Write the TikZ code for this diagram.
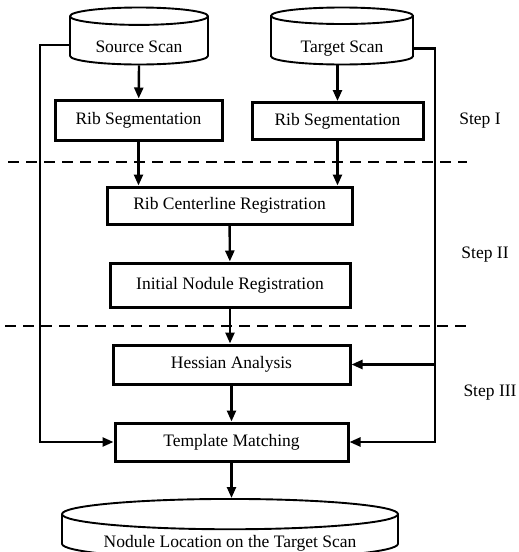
\documentclass[tikz,border=0pt]{standalone}
\usepackage{fontspec}
\setmainfont{Liberation Serif}
\usetikzlibrary{arrows.meta, shapes.geometric, positioning}
\newcommand{\lowtxt}[2]{\raisebox{-#1}[0pt][0pt]{#2}}
\tikzset{
  stage/.style   ={draw, rectangle, line width=3pt, inner sep=0pt, font=\fontsize{17.5}{20}\selectfont},
  scan/.style    ={draw, cylinder, shape border rotate=90, aspect=0.2, inner sep=0pt, line width=1.9pt, font=\fontsize{17.5}{20}\selectfont},
  flow/.style    ={-{Triangle[length=11pt, width=9pt]}, line width=2.4pt},
  sep/.style     ={dashed, dash pattern=on 11pt off 7pt, line width=2pt},
  steplbl/.style ={font=\fontsize{17.5}{20}\selectfont},
}
\begin{document}
\begin{tikzpicture}[x=1pt, y=-1pt]
  \useasboundingbox (0,0) rectangle (519,552);

  % STEP I: scans and rib segmentation
  \node[scan, anchor=shape center, minimum width=138pt, minimum height=57pt] (src) at (139,36) {\lowtxt{12pt}{Source Scan}};
  \node[scan, anchor=shape center, minimum width=142pt, minimum height=57pt] (tgt) at (342,36) {\lowtxt{12pt}{Target Scan}};
  \node[stage, minimum width=167pt, minimum height=40pt] (segL) at (138.5,120) {Rib Segmentation};
  \node[stage, minimum width=171pt, minimum height=37pt] (segR) at (337.5,121) {Rib Segmentation};
  \draw[flow] (src.south) -- (segL);
  \draw[flow] (tgt.south -| segR.north) -- (segR);
  \node[steplbl] (s1) at (480,121) {Step I};

  % separators
  \coordinate (d1a) at (8,162);   \coordinate (d1b) at (467,162);
  \coordinate (d2a) at (5,326);   \coordinate (d2b) at (466,326);
  \draw[sep] (d1a) -- (d1b);
  \draw[sep] (d2a) -- (d2b);

  % STEP II: registration
  \node[stage, minimum width=245pt, minimum height=37pt] (cenreg) at (229.5,205.5) {Rib Centerline Registration};
  \node[stage, minimum width=240pt, minimum height=44pt] (nodreg) at (230,285) {Initial Nodule Registration};
  \draw[flow] (segL.south) -- (segL.south |- cenreg.north);
  \draw[flow] (segR.south) -- (segR.south |- cenreg.north);
  \draw[flow] (cenreg) -- (nodreg);
  \node[steplbl] (s2) at (485,255) {Step II};

  % STEP III: refinement
  \node[stage, minimum width=237pt, minimum height=39pt] (hess) at (231.5,364.5) {Hessian Analysis};
  \node[stage, minimum width=233pt, minimum height=38pt] (tmatch) at (231.5,442) {Template Matching};
  \node[scan, aspect=0.12, minimum width=336pt, minimum height=60pt] (result) at (230,537) {\lowtxt{10pt}{Nodule Location on the Target Scan}};
  \draw[flow] (nodreg.south) -- (nodreg.south |- hess.north);
  \draw[flow] (hess.south) -- (hess.south |- tmatch.north);
  \draw[flow] (tmatch.south) -- (tmatch.south |- result.north);
  \node[steplbl] (s3) at (490,393) {Step III};

  % side feeds from the scans
  \coordinate (lrail) at (40,0);
  \coordinate (rrail) at (435,0);
  \draw[flow] ([yshift=-4pt]src.west) -- ([yshift=-4pt]src.west -| lrail) -- (lrail |- tmatch.west) -- (tmatch.west);
  \draw[flow] ([yshift=-8pt]tgt.east) -- ([yshift=-8pt]tgt.east -| rrail) -- (rrail |- tmatch.east) -- (tmatch.east);
  \draw[flow] (rrail |- hess.east) -- (hess.east);
\end{tikzpicture}
\end{document}
